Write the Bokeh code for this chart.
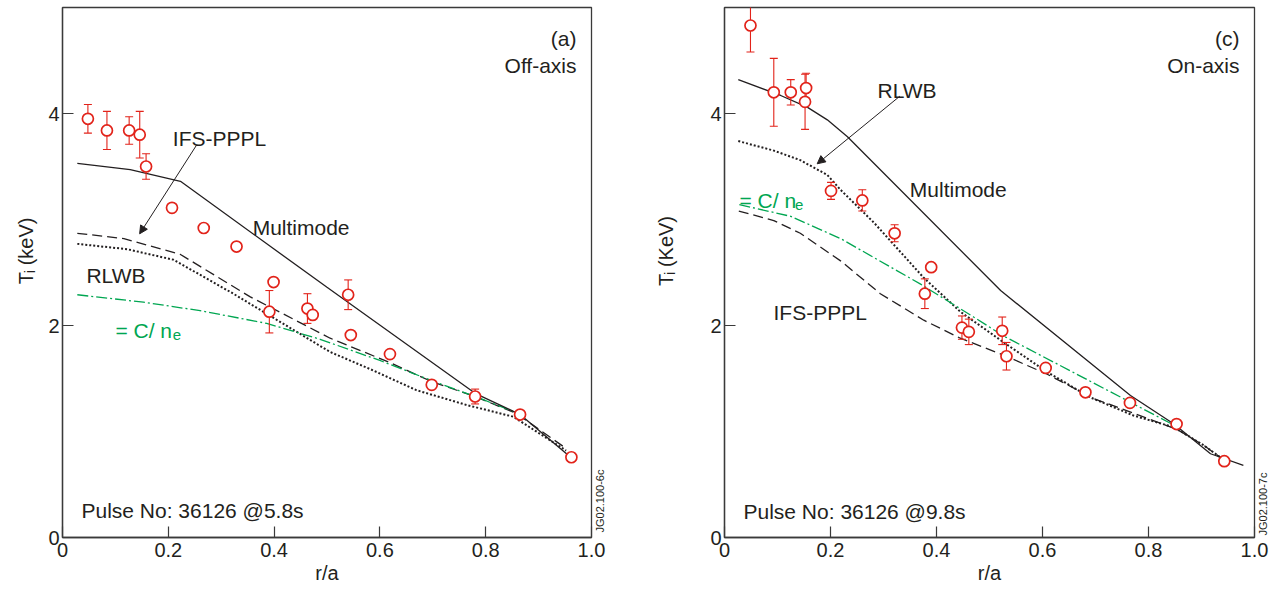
import math
from bokeh.plotting import figure
from bokeh.models import Label, Arrow, NormalHead, FixedTicker, Range1d, LinearAxis
from bokeh.layouts import row
from bokeh.embed import file_html
from bokeh.resources import INLINE

# ---------------- data ----------------
x_ticks = [0, 0.2, 0.4, 0.6, 0.8, 1.0]
x_tick_labels = ["0", "0.2", "0.4", "0.6", "0.8", "1.0"]
y_ticks = [0, 2, 4]
y_tick_labels = ["0", "2", "4"]

# Panel (a) Off-axis, pulse 36126 @5.8s
a_exp_r = [0.048, 0.084, 0.126, 0.146, 0.158, 0.207, 0.267, 0.329, 0.399, 0.391,
           0.463, 0.473, 0.540, 0.545, 0.619, 0.698, 0.780, 0.865, 0.962]
a_exp_T = [3.95, 3.84, 3.84, 3.80, 3.50, 3.11, 2.92, 2.745, 2.41, 2.13,
           2.16, 2.10, 2.29, 1.91, 1.73, 1.44, 1.33, 1.16, 0.757]
a_exp_err = [0.135, 0.18, 0.13, 0.22, 0.12, 0.0, 0.0, 0.0, 0.0, 0.20,
             0.14, 0.0, 0.14, 0.0, 0.0, 0.0, 0.07, 0.0, 0.0]

a_mm_r = [0.028, 0.128, 0.223, 0.50, 0.78, 0.865, 0.96]
a_mm_T = [3.53, 3.47, 3.36, 2.36, 1.36, 1.16, 0.76]
a_ifs_r = [0.028, 0.116, 0.223, 0.355, 0.506, 0.619, 0.698, 0.78, 0.858, 0.952]
a_ifs_T = [2.87, 2.82, 2.67, 2.27, 1.88, 1.65, 1.47, 1.33, 1.17, 0.84]
a_rlwb_r = [0.028, 0.122, 0.21, 0.323, 0.506, 0.581, 0.669, 0.764, 0.852, 0.952]
a_rlwb_T = [2.77, 2.72, 2.62, 2.30, 1.75, 1.59, 1.39, 1.25, 1.14, 0.82]
a_cn_r = [0.028, 0.153, 0.26, 0.386, 0.487, 0.60, 0.698, 0.78, 0.862]
a_cn_T = [2.29, 2.22, 2.14, 2.02, 1.87, 1.67, 1.48, 1.33, 1.17]

# Panel (c) On-axis, pulse 36126 @9.8s
c_exp_r = [0.049, 0.093, 0.125, 0.154, 0.152, 0.201, 0.26, 0.321, 0.39, 0.378,
           0.448, 0.461, 0.524, 0.532, 0.606, 0.681, 0.765, 0.853, 0.943]
c_exp_T = [4.83, 4.20, 4.20, 4.24, 4.11, 3.27, 3.18, 2.87, 2.55, 2.30,
           1.98, 1.94, 1.95, 1.71, 1.60, 1.37, 1.27, 1.07, 0.72]
c_exp_err = [0.25, 0.32, 0.12, 0.14, 0.26, 0.08, 0.10, 0.08, 0.0, 0.14,
             0.11, 0.12, 0.13, 0.13, 0.0, 0.0, 0.0, 0.0, 0.0]

c_mm_r = [0.026, 0.106, 0.156, 0.194, 0.232, 0.521, 0.766, 0.848, 0.917, 0.979]
c_mm_T = [4.32, 4.17, 4.06, 3.94, 3.78, 2.33, 1.34, 1.07, 0.79, 0.68]
c_ifs_r = [0.027, 0.093, 0.143, 0.219, 0.294, 0.376, 0.445, 0.527, 0.609, 0.697,
           0.779, 0.854, 0.904, 0.94]
c_ifs_T = [3.08, 2.99, 2.87, 2.61, 2.30, 2.05, 1.88, 1.72, 1.54, 1.31,
           1.16, 1.02, 0.87, 0.74]
c_rlwb_r = [0.026, 0.093, 0.143, 0.194, 0.219, 0.282, 0.376, 0.445, 0.527, 0.609,
            0.691, 0.772, 0.848, 0.904, 0.94]
c_rlwb_T = [3.74, 3.65, 3.56, 3.42, 3.28, 2.97, 2.45, 2.13, 1.84, 1.56,
            1.32, 1.15, 1.04, 0.87, 0.74]
c_cn_r = [0.028, 0.125, 0.219, 0.370, 0.47, 0.527, 0.684, 0.848]
c_cn_T = [3.14, 3.03, 2.82, 2.39, 2.08, 1.90, 1.49, 1.06]

# ---------------- style ----------------
RED = "#e2231a"
GREEN = "#00a651"
INK = "#231f20"
FONT = "Liberation Sans"
H = 590
FRAME_W = 530.0
FRAME_TOP = 7
FRAME_BOT = 537
PX_PER_UNIT = (FRAME_BOT - FRAME_TOP) / 5.0


def make_panel(width, border_left, border_right):
    p = figure(width=width, height=H, output_backend="svg", toolbar_location=None,
               x_range=Range1d(0, 1.0), y_range=Range1d(0, 5.0),
               min_border_left=border_left, min_border_right=border_right,
               min_border_top=FRAME_TOP, min_border_bottom=H - FRAME_BOT)
    p.background_fill_color = "white"
    p.border_fill_color = "white"
    p.outline_line_color = "#3a3a3a"
    p.outline_line_width = 1.3
    p.xgrid.visible = False
    p.ygrid.visible = False
    for ax, ticks, labels in ((p.xaxis[0], x_ticks, x_tick_labels),
                              (p.yaxis[0], y_ticks, y_tick_labels)):
        ax.ticker = FixedTicker(ticks=ticks)
        ax.major_label_overrides = {t: l for t, l in zip(ticks, labels)}
        ax.minor_tick_line_color = None
        ax.major_tick_in = 11
        ax.major_tick_out = 0
        ax.major_tick_line_color = "#3a3a3a"
        ax.major_tick_line_width = 1.2
        ax.axis_line_color = "#3a3a3a"
        ax.axis_line_width = 1.3
        ax.major_label_text_font = FONT
        ax.major_label_text_font_size = "20px"
        ax.major_label_text_color = INK
    p.xaxis.major_label_standoff = 5
    p.yaxis.major_label_standoff = 3
    p.yaxis.axis_label = None
    p.yaxis.axis_label_standoff = 0
    p.xaxis.axis_label = "r/a"
    p.xaxis.axis_label_text_font = FONT
    p.xaxis.axis_label_text_font_size = "20px"
    p.xaxis.axis_label_text_font_style = "normal"
    p.xaxis.axis_label_text_color = INK
    p.xaxis.axis_label_standoff = 2
    return p


def add_code_axis(p, code, py_bottom, standoff):
    # figure code printed vertically just right of the frame, starting at py_bottom
    yc = (FRAME_BOT - py_bottom) / PX_PER_UNIT
    ax = LinearAxis(ticker=FixedTicker(ticks=[yc]), major_label_overrides={yc: code},
                    major_label_orientation=math.pi / 2, major_tick_line_color=None,
                    minor_tick_line_color=None, axis_line_color=None,
                    major_tick_in=0, major_tick_out=0, axis_label_standoff=0,
                    major_label_text_font=FONT, major_label_text_font_size="11px",
                    major_label_text_color=INK, major_label_standoff=int(standoff))
    p.add_layout(ax, "right")


def spacer(width):
    s = figure(width=width, height=H, output_backend="svg", toolbar_location=None,
               x_range=Range1d(0, width), y_range=Range1d(0, H),
               x_axis_type=None, y_axis_type=None, min_border=0)
    s.outline_line_color = None
    s.xgrid.visible = False
    s.ygrid.visible = False
    return s


def to_data(px, py, frame_left):
    return (px - frame_left) / FRAME_W, (FRAME_BOT - py) / PX_PER_UNIT


def add_text(p, frame_left, px, py, text, size=21, color=INK, align="left"):
    x, y = to_data(px, py, frame_left)
    p.add_layout(Label(x=x, y=y, text=text, text_font=FONT, text_font_size=f"{size}px",
                       text_color=color, text_align=align, text_baseline="alphabetic"))


def add_ylabel(s, x0, base_x, bottom_y, unit_text):
    # rotated "T_i (keV)" label drawn in a spacer; coordinates in page pixels
    parts = [("T", 20, 0.0, 0.0), ("i", 14, 4.0, 12.2), (unit_text, 20, 0.0, 21.0)]
    for text, size, dx, dy in parts:
        s.add_layout(Label(x=base_x - x0 + dx, y=H - (bottom_y - dy), text=text,
                           text_font=FONT, text_font_size=f"{size}px", text_color=INK,
                           text_align="left", text_baseline="alphabetic",
                           angle=math.pi / 2))


def draw_panel(p, exp_r, exp_T, exp_err, mm, ifs, rlwb, cn):
    p.line(ifs[0], ifs[1], line_color=INK, line_width=1.3, line_dash="10 5")
    p.line(rlwb[0], rlwb[1], line_color=INK, line_width=2.0, line_dash="2 2")
    p.line(cn[0], cn[1], line_color=GREEN, line_width=1.3, line_dash="11 3 2 3")
    p.line(mm[0], mm[1], line_color=INK, line_width=1.3)
    er = [(r, t, e) for r, t, e in zip(exp_r, exp_T, exp_err) if e > 0]
    ex = [v[0] for v in er]
    lo = [v[1] - v[2] for v in er]
    hi = [v[1] + v[2] for v in er]
    p.segment(x0=ex, y0=lo, x1=ex, y1=hi, line_color=RED, line_width=1.1)
    p.scatter(ex + ex, lo + hi, marker="dash", size=8, line_color=RED, line_width=1.1)
    p.scatter(exp_r, exp_T, marker="circle", size=11, fill_color="white",
              line_color=RED, line_width=1.7)


def add_arrow(p, frame_left, p0, p1):
    x0, y0 = to_data(p0[0], p0[1], frame_left)
    x1, y1 = to_data(p1[0], p1[1], frame_left)
    p.add_layout(Arrow(x_start=x0, y_start=y0, x_end=x1, y_end=y1, line_color=INK,
                       line_width=1.0,
                       end=NormalHead(size=8, fill_color=INK, line_color=INK, line_width=1)))


# ---------------- left y label ----------------
s1 = spacer(40)
add_ylabel(s1, 0, 25.5, 308, "(keV)")

# ---------------- panel (a) ----------------
LA = 62
pa = make_panel(574, 22, 22)
draw_panel(pa, a_exp_r, a_exp_T, a_exp_err, (a_mm_r, a_mm_T), (a_ifs_r, a_ifs_T),
           (a_rlwb_r, a_rlwb_T), (a_cn_r, a_cn_T))
add_code_axis(pa, "JG02.100-6c", 532, 8)
add_text(pa, LA, 577, 38, "(a)", align="right")
add_text(pa, LA, 577, 65, "Off-axis", align="right")
add_text(pa, LA, 172.5, 138, "IFS-PPPL")
add_text(pa, LA, 252.5, 227, "Multimode")
add_text(pa, LA, 86, 275, "RLWB")
add_text(pa, LA, 115, 330, "= C/ n", color=GREEN)
add_text(pa, LA, 172.5, 334, "e", size=15, color=GREEN)
add_text(pa, LA, 81, 510, "Pulse No: 36126 @5.8s")
add_arrow(pa, LA, (196.7, 144), (139.3, 233.3))

# ---------------- middle y label ----------------
s2 = spacer(86)
add_ylabel(s2, 614, 665.5, 310, "(KeV)")

# ---------------- panel (c) ----------------
LC = 724
pc = make_panel(582, 24, 28)
draw_panel(pc, c_exp_r, c_exp_T, c_exp_err, (c_mm_r, c_mm_T), (c_ifs_r, c_ifs_T),
           (c_rlwb_r, c_rlwb_T), (c_cn_r, c_cn_T))
add_code_axis(pc, "JG02.100-7c", 535, 8)
add_text(pc, LC, 1239, 38, "(c)", align="right")
add_text(pc, LC, 1239, 65, "On-axis", align="right")
add_text(pc, LC, 877, 90, "RLWB")
add_text(pc, LC, 909.3, 188.5, "Multimode")
add_text(pc, LC, 739, 200, "= C/ n", color=GREEN)
add_text(pc, LC, 794.5, 204, "e", size=15, color=GREEN)
add_text(pc, LC, 773, 311.5, "IFS-PPPL")
add_text(pc, LC, 743, 510.5, "Pulse No: 36126 @9.8s")
add_arrow(pc, LC, (899.3, 95.7), (816.7, 163.3))

layout = row(s1, pa, s2, pc)
open("out.html", "w").write(file_html(layout, INLINE))
